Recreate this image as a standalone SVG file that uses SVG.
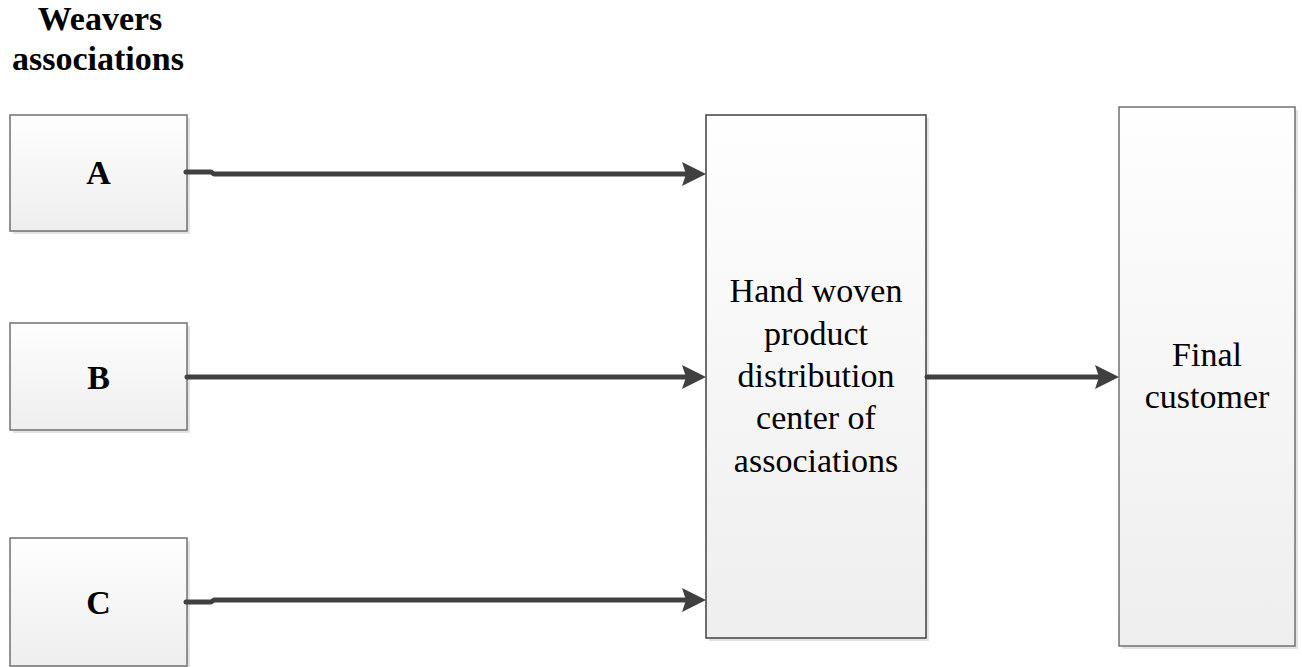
<svg xmlns="http://www.w3.org/2000/svg" width="1302" height="667" viewBox="0 0 1302 667">
  <style>
    .shadow { fill: #e3e3e3; }
    .box { fill: url(#boxFill); stroke: #707070; stroke-width: 1.5; }
    .box-dark { stroke: #404040; }
    .label-bold { font-family: "Liberation Serif", "Times New Roman", serif; font-size: 34px; font-weight: bold; fill: #000; text-anchor: middle; }
    .label { font-family: "Liberation Serif", "Times New Roman", serif; font-size: 34px; fill: #000; text-anchor: middle; }
    .conn { fill: none; stroke: #404040; stroke-width: 5; stroke-linecap: round; stroke-linejoin: round; }
  </style>
  <defs>
    <linearGradient id="boxFill" x1="0" y1="0" x2="0" y2="1">
      <stop offset="0" stop-color="#fefefe"/>
      <stop offset="1" stop-color="#eeeeee"/>
    </linearGradient>
    <!-- arrowhead: tip at (0,0), drawn 20px beyond the line end -->
    <marker id="arrow" markerUnits="userSpaceOnUse" markerWidth="30" markerHeight="30" viewBox="-27 -15 30 30" refX="-20" refY="0" orient="auto" overflow="visible">
      <path d="M0,0 L-24,-12 L-20,0 L-24,12 Z" fill="#404040"/>
    </marker>
  </defs>

  <rect width="1302" height="667" fill="#ffffff"/>

  <!-- Heading -->
  <g id="heading">
    <text class="label-bold" x="100" y="30">Weavers</text>
    <text class="label-bold" x="98" y="70">associations</text>
  </g>

  <!-- Association A -->
  <g id="node-a">
    <rect class="shadow" x="13" y="118" width="177" height="116"/>
    <rect class="box" x="10" y="115" width="177" height="116"/>
    <text class="label-bold" x="98.5" y="184">A</text>
  </g>

  <!-- Association B -->
  <g id="node-b">
    <rect class="shadow" x="13" y="326" width="177" height="107"/>
    <rect class="box" x="10" y="323" width="177" height="107"/>
    <text class="label-bold" x="98.5" y="389">B</text>
  </g>

  <!-- Association C -->
  <g id="node-c">
    <rect class="shadow" x="13" y="541" width="177" height="128"/>
    <rect class="box" x="10" y="538" width="177" height="128"/>
    <text class="label-bold" x="98.5" y="614">C</text>
  </g>

  <!-- Distribution center -->
  <g id="node-center">
    <rect class="shadow" x="709" y="118" width="220" height="523"/>
    <rect class="box box-dark" x="706" y="115" width="220" height="523"/>
    <text class="label" x="816" y="302">Hand woven</text>
    <text class="label" x="816" y="345">product</text>
    <text class="label" x="816" y="387">distribution</text>
    <text class="label" x="816" y="429">center of</text>
    <text class="label" x="816" y="472">associations</text>
  </g>

  <!-- Final customer -->
  <g id="node-final">
    <rect class="shadow" x="1122" y="110" width="176" height="539"/>
    <rect class="box" x="1119" y="107" width="176" height="539"/>
    <text class="label" x="1207" y="366">Final</text>
    <text class="label" x="1207" y="408">customer</text>
  </g>

  <!-- Connectors -->
  <g id="connectors">
    <path class="conn" d="M186,172 H211 L214,174 H686" marker-end="url(#arrow)"/>
    <path class="conn" d="M187,377 H686" marker-end="url(#arrow)"/>
    <path class="conn" d="M186,602 H211 L214,600 H686" marker-end="url(#arrow)"/>
    <path class="conn" d="M927,377 H1099" marker-end="url(#arrow)"/>
  </g>
</svg>
